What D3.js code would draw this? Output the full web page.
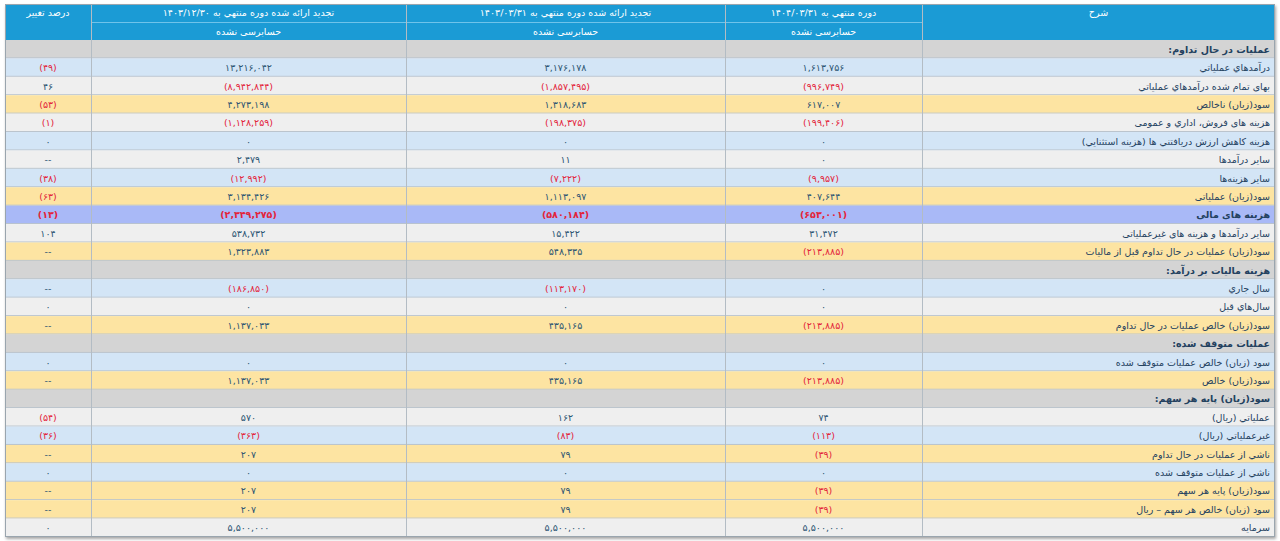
<!DOCTYPE html>
<html><head><meta charset="utf-8">
<script src="https://cdn.jsdelivr.net/npm/d3@7"></script>
<style>
body{margin:0;background:#fff;}
text{font-family:"DejaVu Sans",sans-serif;}
</style></head>
<body><div id="chart"></div>
<script>
// row labels (RTL), row style: s=section, b=blue, g=gray, y=yellow, h=highlight
var labels = ["عمليات در حال تداوم:","درآمدهاي عملياتي","بهاى تمام شده درآمدهاي عملياتي","سود(زيان) ناخالص",
  "هزينه هاى فروش، اداري و عمومى","هزينه کاهش ارزش دريافتني ها (هزينه استثنايي)","ساير درآمدها","ساير هزينه‌ها",
  "سود(زيان) عملياتى","هزينه هاى مالى","ساير درآمدها و هزينه هاى غيرعملياتى","سود(زيان) عمليات در حال تداوم قبل از ماليات",
  "هزينه ماليات بر درآمد:","سال جاري","سال‌هاي قبل","سود(زيان) خالص عمليات در حال تداوم",
  "عمليات متوقف شده:","سود (زيان) خالص عمليات متوقف شده","سود(زيان) خالص",
  "سود(زيان) پايه هر سهم:","عملياتي (ريال)","غيرعملياتي (ريال)","ناشي از عمليات در حال تداوم",
  "ناشي از عمليات متوقف شده","سود(زيان) پايه هر سهم","سود (زيان) خالص هر سهم – ريال","سرمايه"];
var rowTypes = ["s","b","g","y","g","b","g","b","y","h","g","y","s","b","g","y","s","b","y","s","g","b","y","b","y","y","g"];

var period1404 = ["","1,613,756","(996,749)","617,007","(199,406)","0","0","(9,957)","407,644","(653,001)","31,472","(213,885)",
  "","0","0","(213,885)","","0","(213,885)","","74","(113)","(39)","0","(39)","(39)","5,500,000"];
var period1403q = ["","3,176,178","(1,857,495)","1,318,683","(198,375)","0","11","(7,222)","1,113,097","(580,184)","15,422","548,335",
  "","(113,170)","0","435,165","","0","435,165","","162","(83)","79","0","79","79","5,500,000"];
var period1403y = ["","13,216,042","(8,942,844)","4,273,198","(1,128,259)","0","2,479","(12,992)","3,134,426","(2,349,275)","538,732","1,323,883",
  "","(186,850)","0","1,137,033","","0","1,137,033","","570","(363)","207","0","207","207","5,500,000"];
var pctChange = ["","(49)","46","(53)","(1)","0","--","(38)","(63)","(13)","104","--",
  "","--","0","--","","0","--","","(54)","(36)","--","0","--","--","0"];

var headTop = ["درصد تغيير","تجديد ارائه شده دوره منتهي به 1403/12/30","تجديد ارائه شده دوره منتهي به 1403/03/31","دوره منتهي به 1404/03/31","شرح"];
var headSub = ["","حسابرسی نشده","حسابرسی نشده","حسابرسی نشده",""];

(function(){
var fills = {s:"#d4d4d4", b:"#d3e5f6", g:"#efefef", y:"#fde4a2", h:"#a9b9f7"};
function fa(s){ return String(s).replace(/[0-9]/g, function(d){ return "۰۱۲۳۴۵۶۷۸۹"[+d]; }); }

var W = 1280, H = 541;
var svg = d3.select("#chart").append("svg").attr("width", W).attr("height", H);
var defs = svg.append("defs");
var f = defs.append("filter").attr("id","sh").attr("x","-2%").attr("y","-2%").attr("width","104%").attr("height","104%");
f.append("feDropShadow").attr("dx",1).attr("dy",2).attr("stdDeviation",1.5).attr("flood-color","#000").attr("flood-opacity",0.35);

var colEdges = [5, 91, 406, 725, 922, 1275];
var topY = 4, headH = 36, bottomY = 537;
var y = d3.scaleBand().domain(d3.range(labels.length)).range([topY + headH, bottomY]);

svg.append("rect").attr("x",5).attr("y",topY).attr("width",1270).attr("height",bottomY-topY)
  .attr("fill","#fff").attr("filter","url(#sh)");

// header
var hd = svg.append("g");
hd.append("rect").attr("x",5).attr("y",topY).attr("width",1270).attr("height",headH).attr("fill","#1b9bd5");
headTop.forEach(function(t,i){
  var x0 = colEdges[i], x1 = colEdges[i+1];
  hd.append("text").attr("x",(x0+x1)/2).attr("y",topY+12).attr("text-anchor","middle")
    .attr("fill","#fff").attr("font-size",9.5).attr("direction","rtl").text(fa(t));
  if(headSub[i]){
    hd.append("line").attr("x1",x0).attr("x2",x1).attr("y1",topY+18.5).attr("y2",topY+18.5).attr("stroke","#6fc3ea");
    hd.append("text").attr("x",(x0+x1)/2).attr("y",topY+31).attr("text-anchor","middle")
      .attr("fill","#fff").attr("font-size",9.5).attr("direction","rtl").text(headSub[i]);
  }
});

// rows
var rows = svg.selectAll("g.row").data(labels).enter().append("g").attr("class","row")
  .attr("transform", function(d,i){ return "translate(0,"+y(i)+")"; });
rows.append("rect").attr("x",5).attr("width",1270).attr("height",y.bandwidth())
  .attr("fill", function(d,i){ return fills[rowTypes[i]]; });
rows.append("line").attr("x1",5).attr("x2",1275).attr("y1",y.bandwidth()-0.5).attr("y2",y.bandwidth()-0.5)
  .attr("stroke","#b9c3cc");
rows.append("text").attr("x",1270).attr("y",y.bandwidth()/2+3.5).attr("text-anchor","start").attr("direction","rtl")
  .attr("font-size",9.5)
  .attr("font-weight", function(d,i){ return rowTypes[i]==="s"||rowTypes[i]==="h" ? "bold" : "normal"; })
  .attr("fill","#23415f").text(function(d){ return d; });

var cols = [pctChange, period1403y, period1403q, period1404];
cols.forEach(function(vals, c){
  var cx = (colEdges[c]+colEdges[c+1])/2;
  rows.append("text").attr("x",cx).attr("y",y.bandwidth()/2+3.5).attr("text-anchor","middle")
    .attr("font-size",9.5)
    .attr("font-weight", function(d,i){ return rowTypes[i]==="h" ? "bold" : "normal"; })
    .attr("fill", function(d,i){ return vals[i].charAt(0)==="(" ? "#e3243b" : "#2d5573"; })
    .text(function(d,i){ return fa(vals[i]); });
});

// column separators
svg.selectAll("line.sep").data(colEdges.slice(1,-1)).enter().append("line")
  .attr("x1",function(d){return d+0.5;}).attr("x2",function(d){return d+0.5;})
  .attr("y1",topY).attr("y2",bottomY)
  .attr("stroke", "#b3bcc4");
svg.append("rect").attr("x",5.5).attr("y",topY+0.5).attr("width",1269).attr("height",bottomY-topY-1)
  .attr("fill","none").attr("stroke","#9aa5ae");
})();
</script></body></html>
